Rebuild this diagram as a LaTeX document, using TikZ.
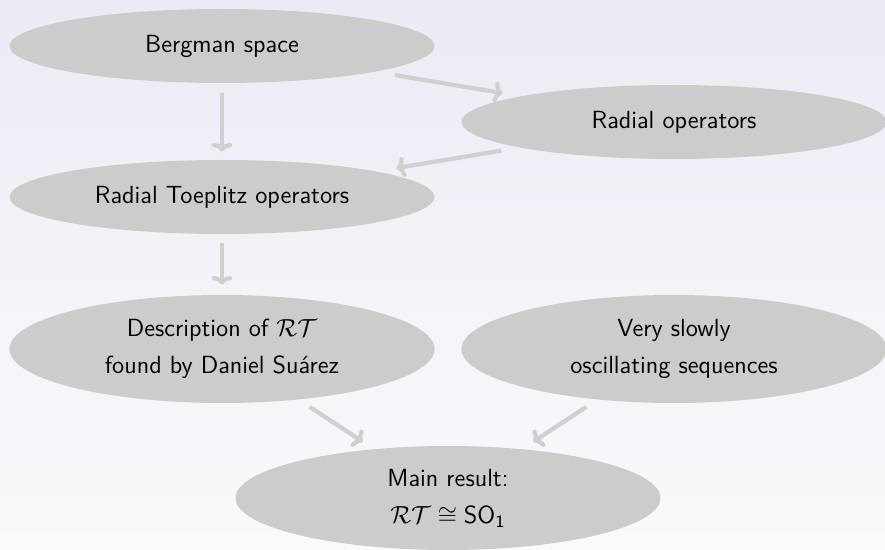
\documentclass[tikz,border=0pt]{standalone}
\usepackage{fontspec}
\usetikzlibrary{shapes.geometric,arrows.meta}

\newdimen\px
\px=0.4433pt

\definecolor{bubble}{RGB}{204,204,204}
\definecolor{linkgray}{RGB}{208,208,208}
\definecolor{bgtop}{RGB}{235,235,245}
\definecolor{bgbottom}{RGB}{250,250,252}

\tikzset{
  bubble/.style={ellipse, fill=bubble, draw=none, inner sep=0pt,
    minimum width=425\px, align=center,
    font=\sffamily\fontsize{11}{16.5}\selectfont},
  flat/.style={bubble, minimum height=74\px},
  tall/.style={bubble, minimum height=108\px},
  link/.style={draw=linkgray, line width=1.9pt,
    -{To[length=3.8pt,width=9pt]}}
}

\begin{document}
\begin{tikzpicture}[x=0.4433pt, y=-0.4433pt]
  % page background
  \shade[top color=bgtop, bottom color=bgbottom] (0,0) rectangle (885,550);
  \useasboundingbox (0,0) rectangle (885,550);

  % nodes
  \node[flat] (berg) at (222,46)  {Bergman space};
  \node[flat] (rad)  at (674,122) {Radial operators};
  \node[flat] (toep) at (222,197) {Radial Toeplitz operators};
  \node[tall] (desc) at (222,349) {Description of $\mathcal{RT}$\\found by Daniel Suárez};
  \node[tall] (slow) at (674,349) {Very slowly\\oscillating sequences};
  \node[bubble, minimum height=104\px] (main) at (448,498)
        {Main result:\\$\mathcal{RT}\cong\mathsf{SO}_{\mathsf{1}}$};

  % connectors
  \draw[link, shorten <=10\px, shorten >=8\px]  (berg) -- (toep);
  \draw[link, shorten <=19\px, shorten >=18\px] (berg) -- (rad);
  \draw[link, shorten <=18\px, shorten >=20\px] (rad)  -- (toep);
  \draw[link, shorten <=9\px,  shorten >=10\px] (toep) -- (desc);
  \draw[link, shorten <=13\px, shorten >=13\px] (desc) -- (main);
  \draw[link, shorten <=13\px, shorten >=13\px] (slow) -- (main);
\end{tikzpicture}
\end{document}
